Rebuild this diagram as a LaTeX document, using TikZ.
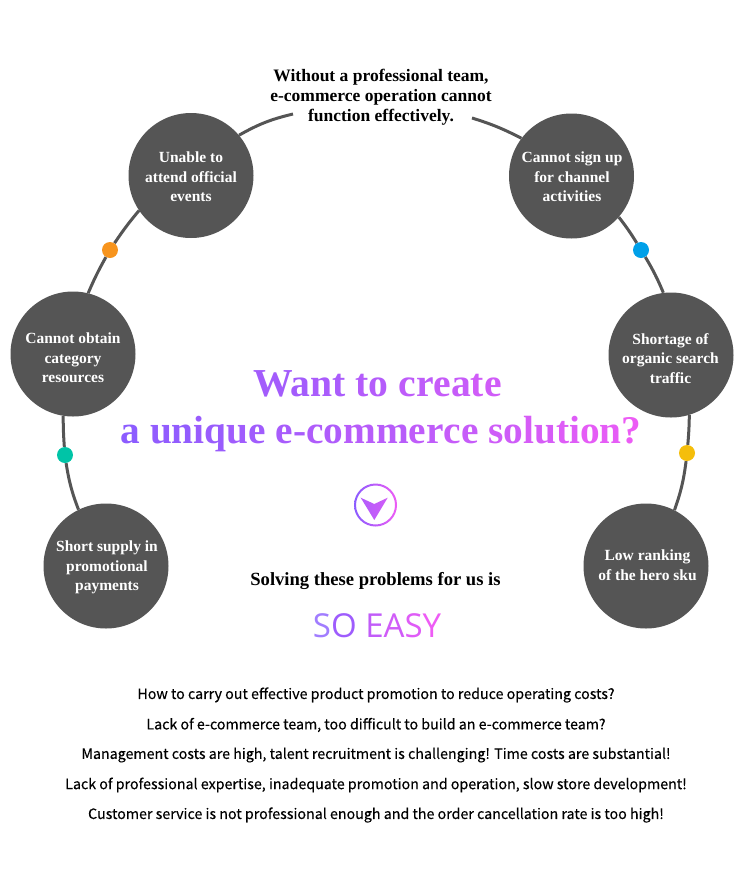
\documentclass[tikz,border=0pt]{standalone}
\usepackage{fontspec}
\setmainfont{Liberation Serif}
\newfontfamily\cjkfont[FakeBold=0.25]{Noto Sans CJK SC}
\newfontfamily\easyfont{Open Sans}
\usetikzlibrary{shadings}
\definecolor{disc}{HTML}{555555}
\definecolor{gl}{HTML}{8A5CFF}
\definecolor{gr}{HTML}{EE5CF5}
\newcommand{\gc}[2]{\textcolor{gr!#1!gl}{#2}}
\tikzset{
  x=1pt,y=-1pt,
  problem/.style={circle,fill=disc,minimum size=125pt,inner sep=0pt},
  problemtext/.style={inner sep=0pt,align=center,text=white,font=\bfseries\fontsize{15.5}{19.5}\selectfont},
  link/.style={draw=disc,line width=3pt},
  dotmark/.style={circle,minimum size=16pt,inner sep=0pt},
  bodyline/.style={font=\cjkfont\fontsize{14.25}{16}\selectfont,text=black,inner sep=0pt},
}
\begin{document}
\begin{tikzpicture}
\useasboundingbox (0,0) rectangle (750,879);
\fill[white] (0,0) rectangle (750,879);
\node[problem] (unable) at (191,175.5) {};
\node[problem] (signup) at (571.5,176) {};
\node[problem] (obtain) at (73,354) {};
\node[problem] (organic) at (671,355) {};
\node[problem] (supply) at (106,566) {};
\node[problem] (hero) at (646,566) {};
\node[problemtext] (unablet) at (191,177) {Unable to\\attend official\\events};
\node[problemtext] (signupt) at (572,177) {Cannot sign up\\for channel\\activities};
\node[problemtext] (obtaint) at (73,358) {Cannot obtain\\category\\resources};
\node[problemtext] (organict) at (670.5,358.5) {Shortage of\\organic search\\traffic};
\node[problemtext] (supplyt) at (107,567.5) {Short supply in\\promotional\\payments};
\node[problemtext] (herot) at (647.5,565) {Low ranking\\of the hero sku};
\node[dotmark,fill={rgb,255:red,247;green,148;blue,29}] (dota) at (110,250) {};
\node[dotmark,fill={rgb,255:red,0;green,196;blue,167}] (dotb) at (65,455) {};
\node[dotmark,fill={rgb,255:red,0;green,160;blue,233}] (dotc) at (641,250) {};
\node[dotmark,fill={rgb,255:red,245;green,190;blue,11}] (dotd) at (687,453) {};
\coordinate (leftend) at (293,114);
\coordinate (rightend) at (472,118);
\path[link] (unable.40) to[bend left=8] (leftend);
\path[link] (rightend) to[bend left=5] (signup.143);
\path[link] (unable.214) to[bend right=3] (dota);
\path[link] (dota) to[bend right=3] (obtain.76);
\path[link] (obtain.261) to[bend right=2] (dotb);
\path[link] (dotb) to[bend right=6] (supply.116);
\path[link] (signup.319) to[bend left=3] (dotc);
\path[link] (dotc) to[bend left=4] (organic.97);
\path[link] (organic.287) to[bend left=2] (dotd);
\path[link] (dotd) to[bend left=6] (hero.63);
\node[align=center,inner sep=0pt,font=\bfseries\fontsize{17.5}{20}\selectfont] (head) at (381,97) {Without a professional team,\\e-commerce operation cannot\\function effectively.};
\node[inner sep=0pt,font=\bfseries\fontsize{39.6}{44}\selectfont] (titlea) at (377.5,384) {\gc{25}{Wa}\gc{32}{nt} \gc{42}{to} \gc{52}{cr}\gc{60}{ea}\gc{70}{te}};
\node[inner sep=0pt,font=\bfseries\fontsize{39.3}{44}\selectfont] (titleb) at (381,434.5) {\gc{2}{a} \gc{8}{un}\gc{15}{iq}\gc{22}{ue} \gc{30}{e-}\gc{37}{co}\gc{45}{mm}\gc{53}{er}\gc{60}{ce} \gc{68}{so}\gc{76}{lu}\gc{84}{ti}\gc{91}{on}\gc{98}{?}};
\shade[left color=gl,right color=gr,even odd rule] (375.5,505) circle[radius=21.5] circle[radius=19.5];
\shade[left color=gl!60!gr,right color=gr!70!gl] (360.7,497.7) -- (374.3,504) -- (387.7,497.7) -- (374.3,520) -- cycle;
\node[inner sep=0pt,font=\bfseries\fontsize{18.6}{20}\selectfont] (solve) at (375.5,581) {Solving these problems for us is};
\node[inner sep=0pt,font=\easyfont\fontsize{33}{38}\selectfont] (easy) at (377,626) {\textcolor{gl!80!white}{S}\textcolor{gr!20!gl}{O} \textcolor{gr!55!gl}{E}\textcolor{gr!70!gl}{A}\textcolor{gr!85!gl}{S}\textcolor{gr}{Y}};
\node[bodyline] (ln1) at (376,695) {How to carry out effective product promotion to reduce operating costs?};
\node[bodyline] (ln2) at (376,725) {Lack of e-commerce team, too difficult to build an e-commerce team?};
\node[bodyline] (ln3) at (376,755) {Management costs are high, talent recruitment is challenging! Time costs are substantial!};
\node[bodyline] (ln4) at (376,785) {Lack of professional expertise, inadequate promotion and operation, slow store development!};
\node[bodyline] (ln5) at (376,815) {Customer service is not professional enough and the order cancellation rate is too high!};
\end{tikzpicture}
\end{document}
